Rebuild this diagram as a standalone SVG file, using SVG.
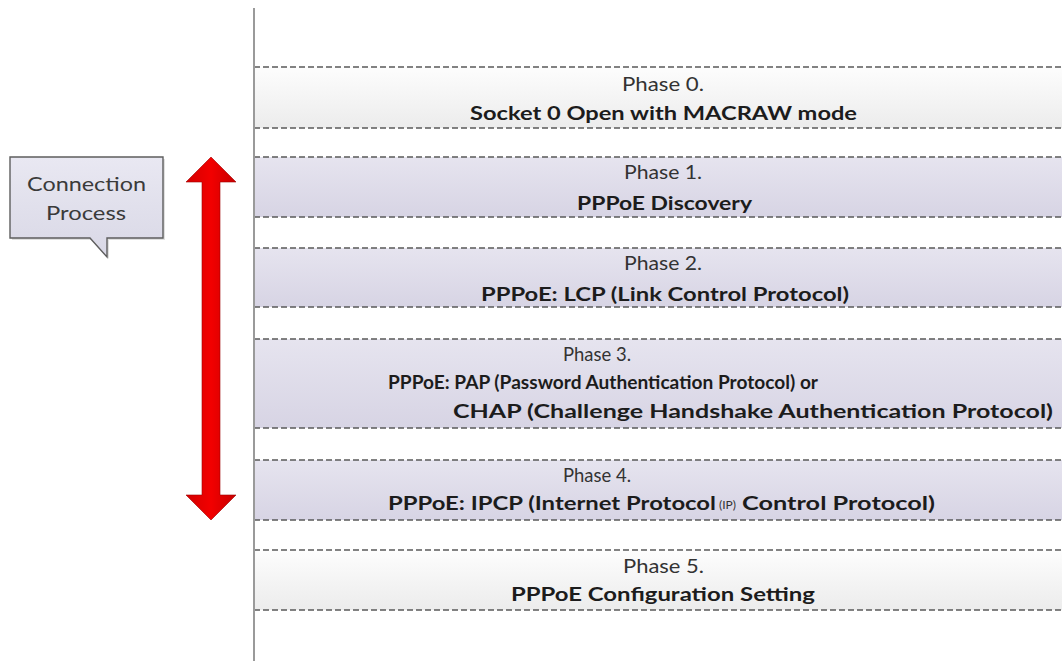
<svg xmlns="http://www.w3.org/2000/svg" width="1062" height="661" viewBox="0 0 1062 661">
<defs>
<linearGradient id="lav" x1="0" y1="0" x2="0" y2="1">
<stop offset="0" stop-color="#e6e4ef"/>
<stop offset="1" stop-color="#d7d4e4"/>
</linearGradient>
<linearGradient id="gry" x1="0" y1="0" x2="0" y2="1">
<stop offset="0" stop-color="#fdfdfd"/>
<stop offset="1" stop-color="#ececec"/>
</linearGradient>
<linearGradient id="call" x1="0" y1="0" x2="0" y2="1">
<stop offset="0" stop-color="#e9e8f2"/>
<stop offset="1" stop-color="#d9d8e6"/>
</linearGradient>
<linearGradient id="red" x1="0" y1="0" x2="1" y2="0">
<stop offset="0" stop-color="#d40000"/>
<stop offset="0.5" stop-color="#f20000"/>
<stop offset="1" stop-color="#c80000"/>
</linearGradient>
</defs>
<style>
.band{stroke:none}
.dash{stroke:#5a5a5a;stroke-width:1.6;stroke-dasharray:6 3;fill:none}
.t{font-family:Lato,"Open Sans","Liberation Sans",sans-serif;font-size:19px;fill:#333}
.b{font-family:Lato,"Open Sans","Liberation Sans",sans-serif;font-size:19px;font-weight:bold;fill:#1c1c1c}
.s{font-family:Lato,"Open Sans","Liberation Sans",sans-serif;font-size:12px;fill:#333}
.c{font-family:Lato,"Open Sans","Liberation Sans",sans-serif;font-size:20px;fill:#3a3a3a}
</style>
<rect width="1062" height="661" fill="#ffffff"/>

<g id="phase0">
<rect class="band" x="254" y="67" width="808" height="61" fill="url(#gry)"/>
<path class="dash" d="M254 67H1062M254 128H1062M254 67V128"/>
<text class="t" x="622" y="91" textLength="82" lengthAdjust="spacingAndGlyphs">Phase 0.</text>
<text class="b" x="470" y="120" textLength="387" lengthAdjust="spacingAndGlyphs">Socket 0 Open with MACRAW mode</text>
</g>

<g id="phase1">
<rect class="band" x="254" y="157" width="808" height="60" fill="url(#lav)"/>
<path class="dash" d="M254 157H1062M254 217H1062M254 157V217"/>
<text class="t" x="624" y="179" textLength="78" lengthAdjust="spacingAndGlyphs">Phase 1.</text>
<text class="b" x="577" y="210" textLength="175" lengthAdjust="spacingAndGlyphs">PPPoE Discovery</text>
</g>

<g id="phase2">
<rect class="band" x="254" y="248" width="808" height="59" fill="url(#lav)"/>
<path class="dash" d="M254 248H1062M254 307H1062M254 248V307"/>
<text class="t" x="624" y="270" textLength="78" lengthAdjust="spacingAndGlyphs">Phase 2.</text>
<text class="b" x="481" y="301" textLength="368" lengthAdjust="spacingAndGlyphs">PPPoE: LCP (Link Control Protocol)</text>
</g>

<g id="phase3">
<rect class="band" x="254" y="339" width="808" height="89" fill="url(#lav)"/>
<path class="dash" d="M254 339H1062M254 428H1062M254 339V428"/>
<text class="t" x="563" y="361" textLength="68" lengthAdjust="spacingAndGlyphs">Phase 3.</text>
<text class="b" x="388" y="389" textLength="430" lengthAdjust="spacingAndGlyphs">PPPoE: PAP (Password Authentication Protocol) or</text>
<text class="b" x="453" y="418" font-size="20" textLength="600" lengthAdjust="spacingAndGlyphs">CHAP (Challenge Handshake Authentication Protocol)</text>
</g>

<g id="phase4">
<rect class="band" x="254" y="460" width="808" height="60" fill="url(#lav)"/>
<path class="dash" d="M254 460H1062M254 520H1062M254 460V520"/>
<text class="t" x="563" y="482" textLength="68" lengthAdjust="spacingAndGlyphs">Phase 4.</text>
<text class="b" x="388" y="510" textLength="328" lengthAdjust="spacingAndGlyphs">PPPoE: IPCP (Internet Protocol</text>
<text class="s" x="719" y="509" textLength="17" lengthAdjust="spacingAndGlyphs">(IP)</text>
<text class="b" x="742" y="510" textLength="193" lengthAdjust="spacingAndGlyphs">Control Protocol)</text>
</g>

<g id="phase5">
<rect class="band" x="254" y="550" width="808" height="60" fill="url(#gry)"/>
<path class="dash" d="M254 550H1062M254 610H1062M254 550V610"/>
<text class="t" x="623" y="573" textLength="81" lengthAdjust="spacingAndGlyphs">Phase 5.</text>
<text class="b" x="511" y="601" textLength="304" lengthAdjust="spacingAndGlyphs">PPPoE Configuration Setting</text>
</g>

<g id="connectors">
<line x1="254" y1="8" x2="254" y2="661" stroke="#9a9a9a" stroke-width="2"/>
<path d="M211 157L236 182H220V495H236L211 520L186 495H202V182H186Z" fill="url(#red)" stroke="#a00000" stroke-width="0.6"/>
</g>

<g id="callout">
<path d="M10 157H163V238H107V257L90 238H10Z" fill="#000" opacity="0.12" transform="translate(2,2)"/>
<path d="M10 157H163V238H107V257L90 238H10Z" fill="url(#call)" stroke="#5e5e5e" stroke-width="1.4"/>
<text class="c" x="27" y="191" textLength="119" lengthAdjust="spacingAndGlyphs">Connection</text>
<text class="c" x="46" y="220" textLength="80" lengthAdjust="spacingAndGlyphs">Process</text>
</g>
</svg>
